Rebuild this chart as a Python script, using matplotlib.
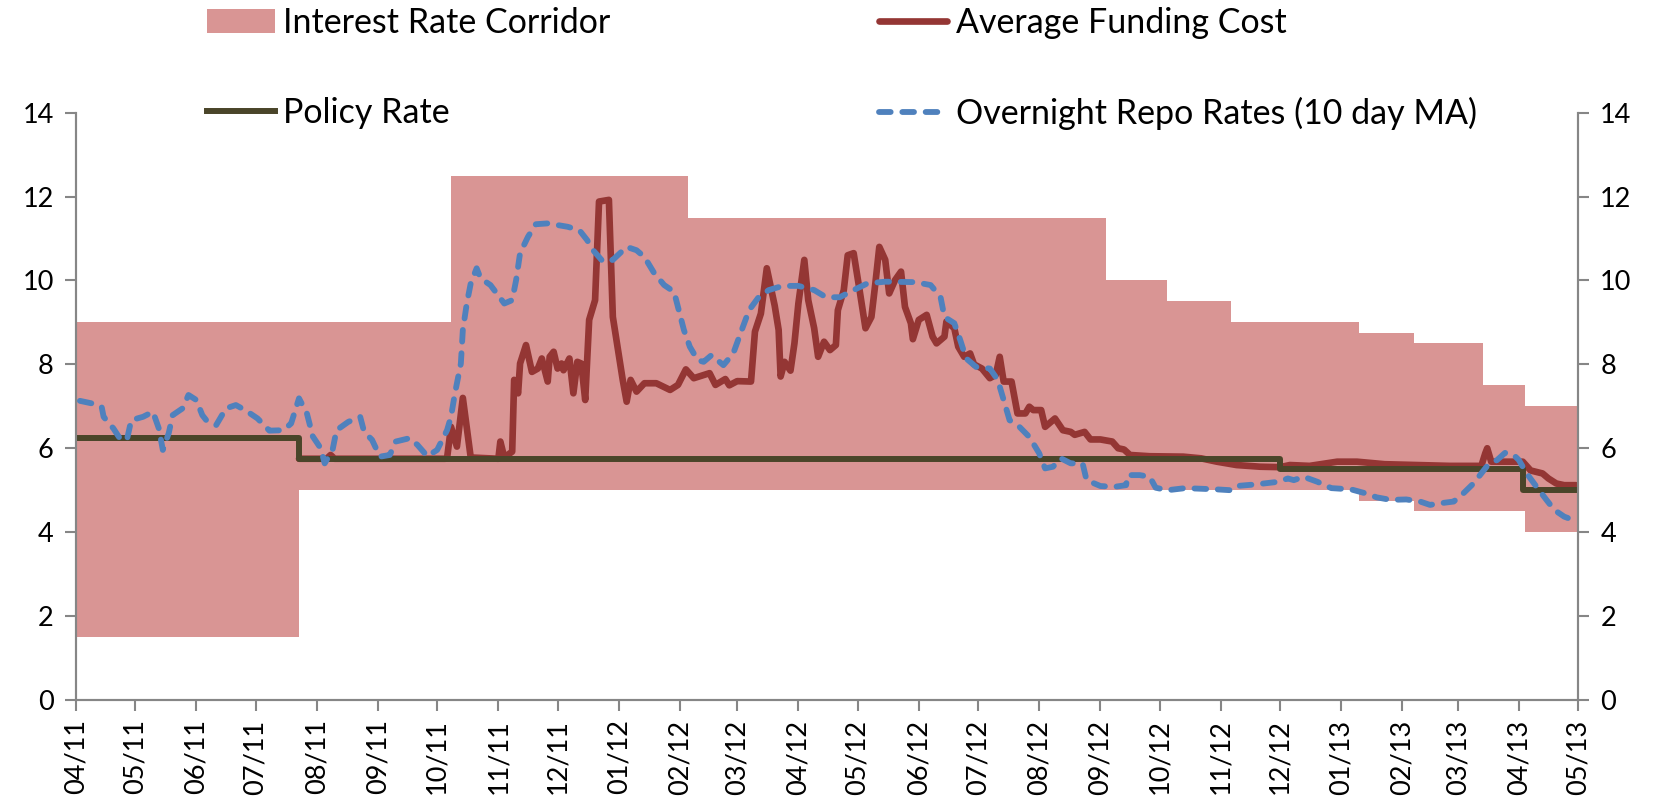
import matplotlib
matplotlib.use("Agg")
import matplotlib.pyplot as plt
import matplotlib.dates as mdates
from matplotlib.patches import Patch
from matplotlib.lines import Line2D
import pandas as pd

plt.rcParams['font.family'] = ['Lato', 'DejaVu Sans']

# interest rate corridor: upper (lending) and lower (borrowing) bounds, step changes
corridor_dates = ['2011-04-01', '2011-07-23', '2011-10-08', '2012-02-05', '2012-09-04', '2012-10-05',
                  '2012-11-06', '2013-01-10', '2013-02-07', '2013-03-14', '2013-04-04', '2013-05-01']
corridor_upper = [9.0, 9.0, 12.5, 11.5, 10.0, 9.5, 9.0, 8.75, 8.5, 7.5, 7.0, 7.0]
corridor_lower = [1.5, 5.0, 5.0, 5.0, 5.0, 5.0, 5.0, 4.75, 4.5, 4.5, 4.0, 4.0]

policy_dates = ['2011-04-01', '2011-07-23', '2012-12-01', '2013-04-03', '2013-05-01']
policy_rate = [6.25, 5.75, 5.5, 5.0, 5.0]

funding_dates = [
    '2011-07-23', '2011-08-06', '2011-08-08', '2011-08-10', '2011-10-05', '2011-10-06', '2011-10-08',
    '2011-10-11', '2011-10-14', '2011-10-18', '2011-11-01', '2011-11-02', '2011-11-04', '2011-11-08',
    '2011-11-09', '2011-11-11', '2011-11-12', '2011-11-15', '2011-11-18', '2011-11-21', '2011-11-23',
    '2011-11-26', '2011-11-27', '2011-11-29', '2011-12-01', '2011-12-03', '2011-12-04', '2011-12-07',
    '2011-12-09', '2011-12-11', '2011-12-13', '2011-12-15', '2011-12-17', '2011-12-20', '2011-12-22',
    '2011-12-27', '2011-12-29', '2012-01-03', '2012-01-05', '2012-01-07', '2012-01-10', '2012-01-14',
    '2012-01-20', '2012-01-27', '2012-01-31', '2012-02-04', '2012-02-08', '2012-02-16', '2012-02-19',
    '2012-02-24', '2012-02-26', '2012-03-01', '2012-03-08', '2012-03-10', '2012-03-13', '2012-03-16',
    '2012-03-20', '2012-03-22', '2012-03-23', '2012-03-25', '2012-03-28', '2012-03-30', '2012-04-01',
    '2012-04-04', '2012-04-06', '2012-04-09', '2012-04-11', '2012-04-14', '2012-04-17', '2012-04-20',
    '2012-04-21', '2012-04-24', '2012-04-26', '2012-04-29', '2012-05-02', '2012-05-05', '2012-05-08',
    '2012-05-10', '2012-05-12', '2012-05-15', '2012-05-17', '2012-05-20', '2012-05-23', '2012-05-25',
    '2012-05-28', '2012-05-29', '2012-06-01', '2012-06-05', '2012-06-08', '2012-06-10', '2012-06-14',
    '2012-06-15', '2012-06-19', '2012-06-21', '2012-06-24', '2012-06-27', '2012-06-29', '2012-07-03',
    '2012-07-07', '2012-07-10', '2012-07-12', '2012-07-14', '2012-07-18', '2012-07-21', '2012-07-25',
    '2012-07-27', '2012-07-29', '2012-08-02', '2012-08-04', '2012-08-09', '2012-08-13', '2012-08-17',
    '2012-08-19', '2012-08-24', '2012-08-27', '2012-09-01', '2012-09-07', '2012-09-10', '2012-09-13',
    '2012-09-16', '2012-09-26', '2012-10-13', '2012-10-22', '2012-10-30', '2012-11-09', '2012-11-21',
    '2012-12-01', '2012-12-06', '2012-12-16', '2012-12-30', '2013-01-09', '2013-01-23', '2013-02-08',
    '2013-02-25', '2013-03-13', '2013-03-15', '2013-03-16', '2013-03-18', '2013-03-24', '2013-04-03',
    '2013-04-07', '2013-04-13', '2013-04-16', '2013-04-20', '2013-04-24', '2013-04-30']
funding_cost = [
    5.75, 5.75, 5.84, 5.75, 5.75, 5.76, 6.51,
    6.04, 7.2, 5.78, 5.75, 6.16, 5.78, 5.92,
    7.63, 7.31, 8.02, 8.46, 7.82, 7.9, 8.14,
    7.59, 8.18, 8.3, 7.9, 8.02, 7.86, 8.14,
    7.31, 8.06, 8.02, 7.15, 9.06, 9.53, 11.88,
    11.92, 9.13, 7.63, 7.11, 7.63, 7.35, 7.55,
    7.55, 7.39, 7.51, 7.88, 7.67, 7.79, 7.51,
    7.65, 7.5, 7.6, 7.59, 8.78, 9.21, 10.29,
    9.4, 8.82, 7.71, 8.06, 7.85, 8.5, 9.45,
    10.49, 9.53, 8.86, 8.18, 8.54, 8.34, 8.46,
    9.29, 9.77, 10.6, 10.65, 9.77, 8.86, 9.13,
    9.93, 10.8, 10.49, 9.69, 10.01, 10.21, 9.37,
    8.98, 8.6, 9.06, 9.18, 8.66, 8.5, 8.66,
    9.02, 8.86, 8.42, 8.18, 8.26, 8.0, 7.9,
    7.67, 7.75, 8.18, 7.59, 7.59, 6.83, 6.83,
    6.99, 6.91, 6.91, 6.51, 6.71, 6.43, 6.39,
    6.32, 6.39, 6.21, 6.21, 6.16, 6.0, 5.97,
    5.84, 5.81, 5.8, 5.76, 5.68, 5.6, 5.56,
    5.55, 5.6, 5.58, 5.68, 5.68, 5.62, 5.6,
    5.58, 5.58, 5.88, 6.0, 5.68, 5.68, 5.68,
    5.47, 5.4, 5.28, 5.16, 5.12, 5.12]

repo_dates = [
    '2011-04-03', '2011-04-09', '2011-04-14', '2011-04-15', '2011-04-20', '2011-04-24', '2011-04-27',
    '2011-04-29', '2011-05-05', '2011-05-10', '2011-05-13', '2011-05-15', '2011-05-18', '2011-05-20',
    '2011-05-25', '2011-05-28', '2011-06-01', '2011-06-04', '2011-06-06', '2011-06-11', '2011-06-16',
    '2011-06-21', '2011-06-26', '2011-07-02', '2011-07-08', '2011-07-15', '2011-07-19', '2011-07-23',
    '2011-07-27', '2011-07-30', '2011-08-03', '2011-08-05', '2011-08-09', '2011-08-11', '2011-08-17',
    '2011-08-23', '2011-08-25', '2011-08-29', '2011-09-02', '2011-09-07', '2011-09-10', '2011-09-17',
    '2011-09-21', '2011-09-26', '2011-10-01', '2011-10-06', '2011-10-08', '2011-10-10', '2011-10-13',
    '2011-10-14', '2011-10-16', '2011-10-18', '2011-10-21', '2011-10-23', '2011-10-28', '2011-11-04',
    '2011-11-08', '2011-11-10', '2011-11-12', '2011-11-16', '2011-11-20', '2011-11-26', '2011-12-06',
    '2011-12-12', '2011-12-16', '2011-12-19', '2011-12-24', '2011-12-29', '2012-01-05', '2012-01-10',
    '2012-01-14', '2012-01-19', '2012-01-24', '2012-01-29', '2012-01-31', '2012-02-03', '2012-02-06',
    '2012-02-10', '2012-02-13', '2012-02-17', '2012-02-23', '2012-02-28', '2012-03-03', '2012-03-07',
    '2012-03-12', '2012-03-17', '2012-03-24', '2012-04-01', '2012-04-09', '2012-04-15', '2012-04-22',
    '2012-04-29', '2012-05-06', '2012-05-15', '2012-05-30', '2012-06-07', '2012-06-12', '2012-06-14',
    '2012-06-19', '2012-06-22', '2012-06-25', '2012-06-30', '2012-07-07', '2012-07-11', '2012-07-14',
    '2012-07-17', '2012-07-22', '2012-07-27', '2012-08-01', '2012-08-04', '2012-08-08', '2012-08-12',
    '2012-08-17', '2012-08-23', '2012-08-25', '2012-09-01', '2012-09-08', '2012-09-14', '2012-09-15',
    '2012-09-21', '2012-09-26', '2012-09-29', '2012-10-05', '2012-10-14', '2012-10-30', '2012-11-06',
    '2012-11-09', '2012-11-19', '2012-11-30', '2012-12-05', '2012-12-08', '2012-12-13', '2012-12-20',
    '2012-12-27', '2013-01-06', '2013-01-13', '2013-01-19', '2013-01-26', '2013-02-03', '2013-02-10',
    '2013-02-15', '2013-02-22', '2013-02-27', '2013-03-04', '2013-03-09', '2013-03-13', '2013-03-16',
    '2013-03-21', '2013-03-25', '2013-03-29', '2013-04-01', '2013-04-05', '2013-04-10', '2013-04-15',
    '2013-04-19', '2013-04-24', '2013-04-28']
repo_ma = [
    7.13, 7.07, 6.99, 6.75, 6.47, 6.18, 6.24,
    6.67, 6.75, 6.87, 6.47, 5.96, 6.36, 6.79,
    6.95, 7.27, 7.15, 6.79, 6.67, 6.55, 6.95,
    7.03, 6.9, 6.71, 6.42, 6.43, 6.59, 7.19,
    6.83, 6.28, 6.0, 5.64, 5.96, 6.43, 6.63,
    6.75, 6.39, 6.2, 5.8, 5.84, 6.16, 6.24,
    6.08, 5.81, 5.96, 6.43, 6.75, 7.31, 8.02,
    8.82, 9.45, 9.93, 10.29, 10.05, 9.89, 9.45,
    9.53, 10.01, 10.65, 11.04, 11.34, 11.36, 11.28,
    11.2, 10.96, 10.72, 10.45, 10.49, 10.8, 10.72,
    10.56, 10.17, 9.89, 9.73, 9.37, 8.82, 8.42,
    8.1, 8.06, 8.22, 7.98, 8.26, 8.78, 9.29,
    9.61, 9.77, 9.87, 9.87, 9.77, 9.6, 9.6,
    9.77, 9.93, 9.97, 9.96, 9.89, 9.61, 9.13,
    8.98, 8.58, 8.14, 7.94, 7.9, 7.63, 7.15,
    6.67, 6.51, 6.27, 5.88, 5.52, 5.56, 5.76,
    5.64, 5.64, 5.24, 5.1, 5.08, 5.12, 5.36,
    5.36, 5.32, 5.06, 5.0, 5.05, 5.02, 5.0,
    5.1, 5.14, 5.2, 5.28, 5.24, 5.32, 5.2,
    5.05, 5.02, 4.93, 4.83, 4.77, 4.78, 4.73,
    4.65, 4.7, 4.73, 4.93, 5.16, 5.4, 5.58,
    5.72, 5.89, 5.86, 5.72, 5.4, 5.08, 4.77,
    4.53, 4.37, 4.3]

labels = ['Interest Rate Corridor', 'Policy Rate', 'Average Funding Cost', 'Overnight Repo Rates (10 day MA)']

c_corr = '#D99594'
c_fund = '#943634'
c_policy = '#4A4529'
c_repo = '#4F81BD'
axis_grey = '#868686'
repo_dash = (2.0, 2.0)

fig = plt.figure(figsize=(16.66, 8.01), dpi=100)
ax = fig.add_axes([0.0456, 0.1261, 0.9016, 0.7333])

cd = pd.to_datetime(corridor_dates)
ax.fill_between(cd, corridor_lower, corridor_upper, step='post', color=c_corr, lw=0, zorder=1)
ax.plot(pd.to_datetime(funding_dates), funding_cost, color=c_fund, lw=4.8,
        solid_joinstyle='round', solid_capstyle='round', zorder=2)
ax.plot(pd.to_datetime(policy_dates), policy_rate, color=c_policy, lw=4.3, drawstyle='steps-post', zorder=3)
ax.plot(pd.to_datetime(repo_dates), repo_ma, color=c_repo, lw=4.2, dashes=repo_dash,
        dash_capstyle='round', zorder=4)

ax.set_xlim(pd.Timestamp('2011-04-01'), pd.Timestamp('2013-05-01'))
ax.set_ylim(0, 14)
ax.set_yticks(range(0, 15, 2))
ax.xaxis.set_major_locator(mdates.MonthLocator())
ax.xaxis.set_major_formatter(mdates.DateFormatter('%m/%y'))

ax2 = ax.twinx()
ax2.set_ylim(0, 14)
ax2.set_yticks(range(0, 15, 2))

for a in (ax, ax2):
    a.spines['top'].set_visible(False)
    for s in ('left', 'right', 'bottom'):
        a.spines[s].set_color(axis_grey)
        a.spines[s].set_linewidth(1.5)
    a.tick_params(axis='both', colors=axis_grey, labelcolor='black', labelsize=19.5,
                  length=8, width=1.5, direction='out')
ax.tick_params(axis='x', rotation=90, pad=6)
ax.tick_params(axis='y', pad=8)
ax2.tick_params(axis='y', pad=8)

handles = [Patch(facecolor=c_corr, edgecolor='none'),
           Line2D([], [], color=c_policy, lw=4.3),
           Line2D([], [], color=c_fund, lw=4.8, solid_capstyle='round'),
           Line2D([], [], color=c_repo, lw=4.2, dashes=repo_dash, dash_capstyle='round')]
fig.legend(handles, labels, ncol=2, loc='upper left', bbox_to_anchor=(0.124, 0.991),
           frameon=False, fontsize=24.5, handlelength=2.0, handletextpad=0.25,
           columnspacing=7.9, labelspacing=1.69, borderpad=0.0, borderaxespad=0.0)

fig.savefig('out.png', dpi=100)
